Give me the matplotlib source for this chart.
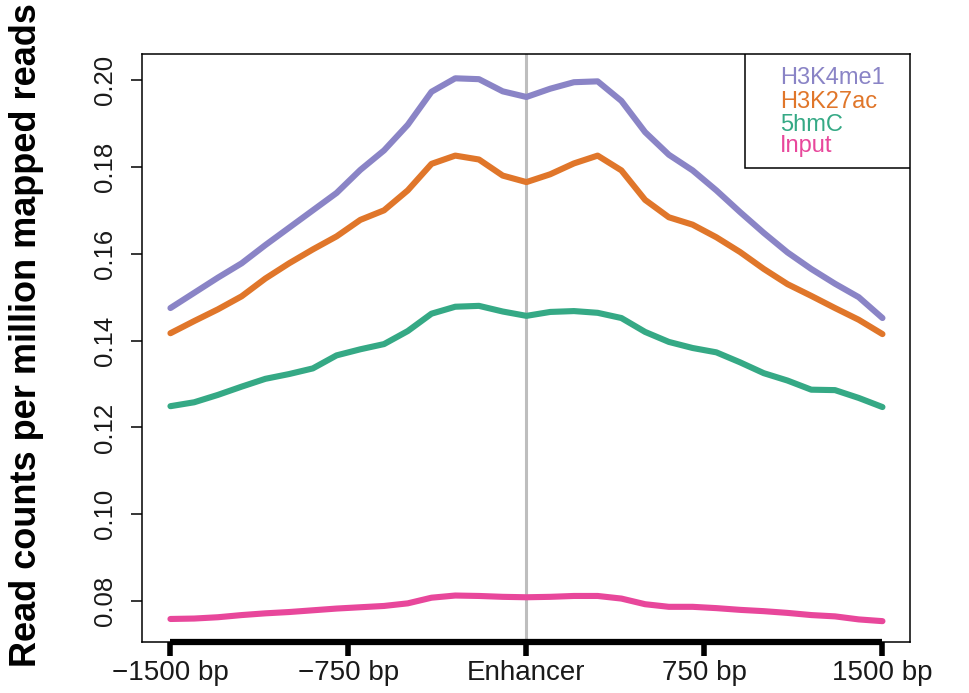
import numpy as np
import matplotlib
matplotlib.use("Agg")
import matplotlib.pyplot as plt
from matplotlib.patches import Rectangle

plt.rcParams['font.family'] = ['Liberation Sans', 'DejaVu Sans']

# distance from enhancer centre (bp)
positions = np.arange(-1500, 1501, 100)

h3k4me1 = [0.1475, 0.1510, 0.1545, 0.1578, 0.1620, 0.1660, 0.1700, 0.1740,
           0.1793, 0.1838, 0.1897, 0.1973, 0.2004, 0.2002, 0.1974, 0.1961,
           0.1980, 0.1995, 0.1997, 0.1952, 0.1880, 0.1828, 0.1792, 0.1746,
           0.1696, 0.1648, 0.1603, 0.1565, 0.1531, 0.1500, 0.1452]
h3k27ac = [0.1417, 0.1445, 0.1472, 0.1502, 0.1543, 0.1578, 0.1610, 0.1640,
           0.1678, 0.1700, 0.1746, 0.1807, 0.1826, 0.1817, 0.1780, 0.1765,
           0.1783, 0.1808, 0.1826, 0.1792, 0.1724, 0.1684, 0.1667, 0.1638,
           0.1604, 0.1565, 0.1530, 0.1503, 0.1475, 0.1448, 0.1415]
hmc5 = [0.1249, 0.1258, 0.1275, 0.1294, 0.1312, 0.1323, 0.1336, 0.1366,
        0.1380, 0.1392, 0.1422, 0.1462, 0.1478, 0.1480, 0.1467, 0.1457,
        0.1466, 0.1468, 0.1464, 0.1452, 0.1420, 0.1397, 0.1383, 0.1373,
        0.1350, 0.1325, 0.1308, 0.1287, 0.1286, 0.1268, 0.1247]
input_ = [0.0759, 0.0760, 0.0763, 0.0768, 0.0772, 0.0775, 0.0779, 0.0783,
          0.0786, 0.0789, 0.0795, 0.0808, 0.0813, 0.0812, 0.0810, 0.0809,
          0.0810, 0.0812, 0.0812, 0.0806, 0.0793, 0.0787, 0.0787, 0.0784,
          0.0780, 0.0777, 0.0773, 0.0768, 0.0765, 0.0758, 0.0754]

series_names = ['H3K4me1', 'H3K27ac', '5hmC', 'Input']
series_colors = ['#8a84c6', '#e0762a', '#35a985', '#e8479b']

xtick_pos = [-1500, -750, 0, 750, 1500]
xtick_labels = ['\u22121500 bp', '\u2212750 bp', 'Enhancer', '750 bp', '1500 bp']
ytick_pos = [0.08, 0.10, 0.12, 0.14, 0.16, 0.18, 0.20]

fig = plt.figure(figsize=(9.69, 6.93), dpi=100)
ax = fig.add_axes([0.1465, 0.0736, 0.7926, 0.8485])

ax.axvline(0, color='#bebebe', lw=2.2, zorder=1)
for vals, name, col in zip([h3k4me1, h3k27ac, hmc5, input_], series_names, series_colors):
    ax.plot(positions, vals, color=col, lw=4.4, solid_capstyle='round',
            solid_joinstyle='round', label=name, zorder=2)

ax.set_xlim(-1620, 1616)
ax.set_ylim(0.0706, 0.2060)

for sp in ax.spines.values():
    sp.set_linewidth(1.1)

# thick R-style x axis line
ylo = ax.get_ylim()[0]
ax.plot([-1500, 1500], [ylo, ylo], color='black', lw=4.5, solid_capstyle='butt',
        clip_on=False, zorder=5)

ax.set_xticks(xtick_pos)
ax.set_xticklabels(xtick_labels, fontsize=20, color='#1a1a1a')
ax.tick_params(axis='x', length=10, width=4, pad=3)

ax.set_yticks(ytick_pos)
ax.set_yticklabels(['%.2f' % v for v in ytick_pos], fontsize=18.5, color='#1a1a1a',
                   rotation=90, va='center')
ax.tick_params(axis='y', length=8, width=1.1, pad=10)

fig.text(27 / 969, 1 - 335 / 693, 'Read counts per million mapped reads',
         rotation=90, ha='center', va='center', fontsize=26, fontweight='bold')

# legend box, text only (as in R legend with no symbols)
ax.add_patch(Rectangle((0.785, 0.806), 0.215, 0.194, transform=ax.transAxes,
                       facecolor='white', edgecolor='black', lw=1.1, zorder=6))
leg_y = [0.959, 0.919, 0.880, 0.843]
for name, col, yy in zip(series_names, series_colors, leg_y):
    ax.text(0.8307, yy, name, color=col, fontsize=17, ha='left', va='center',
            transform=ax.transAxes, zorder=7)

fig.savefig('out.png', dpi=100)
